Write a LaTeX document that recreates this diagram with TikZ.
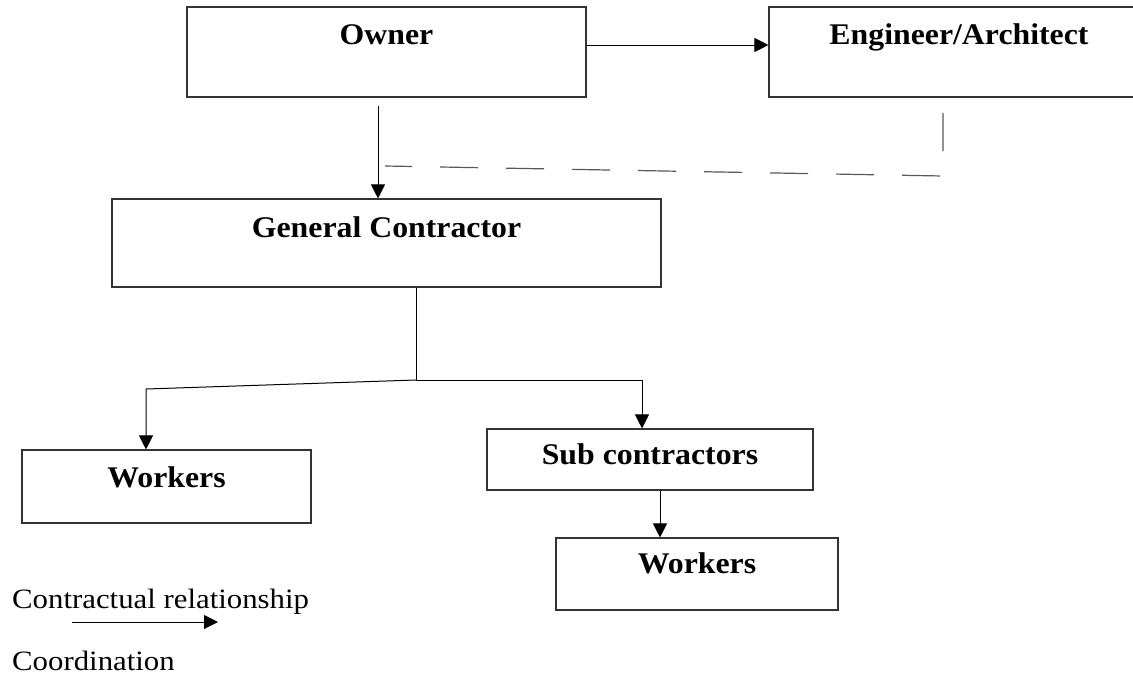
\documentclass[tikz,border=0pt]{standalone}
\usepackage{fontspec}
\setmainfont{Liberation Serif}
\newfontfamily\titlefont{Liberation Serif}[FakeStretch=1.06]
\newfontfamily\legendfont{Liberation Serif}[FakeStretch=1.1]
\usetikzlibrary{arrows.meta}
\begin{document}
\begin{tikzpicture}
            [x=1pt,y=-1pt,
             Box/.style={draw=black!80,line width=1.1pt,inner xsep=0pt,inner ysep=0pt,
               font=\titlefont\bfseries\fontsize{30}{36}\selectfont},
             Contract/.style={line width=1pt,-{Triangle[width=14pt,length=14pt]}},
             Coord/.style={draw=black!65,line width=1.2pt,dash pattern=on 38pt off 28pt},
             Legend/.style={anchor=base west,inner sep=0pt,
               font=\legendfont\fontsize{28}{34}\selectfont}];
            \fill[white] (0,0) rectangle (1133,678);
            \useasboundingbox (0,0) rectangle (1133,678);
            \clip (0,0) rectangle (1133,678);
            % boxes
            \node[Box,minimum width=399pt,text height=37pt,text depth=53pt] (owner) at (386.5,52){Owner};
            \node[Box,minimum width=380pt,text height=37pt,text depth=53pt] (eng) at (959,52){Engineer/Architect};
            \node[Box,minimum width=549pt,text height=38pt,text depth=50pt] (gc) at (386.5,243){General Contractor};
            \node[Box,minimum width=289pt,text height=37pt,text depth=36pt] (wl) at (166.5,486.5){Workers};
            \node[Box,minimum width=326pt,text height=35pt,text depth=26pt] (sub) at (650,459.5){Sub contractors};
            \node[Box,minimum width=282pt,text height=35pt,text depth=37pt] (wr) at (697,574){Workers};
            % contractual links
            \draw[Contract]([yshift=7pt]owner.east) to ([yshift=7pt]eng.west);
            \coordinate (og) at (378,106);
            \draw[Contract](og) to (og |- gc.north);
            \coordinate (split) at (416,380);
            \coordinate (lc) at (146,389);
            \coordinate (rc) at (642,380);
            \draw[line width=1pt](split |- gc.south) to (split);
            \draw[Contract](split) -- (lc) -- (lc |- wl.north);
            \draw[Contract](split) -- (rc) -- (rc |- sub.north);
            \draw[Contract]([xshift=10pt]sub.south) to ([xshift=-37pt]wr.north);
            % coordination
            \coordinate (cA) at (943,113);
            \coordinate (cB) at (943,176);
            \coordinate (cC) at (385,166);
            \draw[Coord](cA) -- (cB) -- (cC);
            % legend
            \node[Legend] (lcon) at (12,608){Contractual relationship};
            \coordinate (la) at (72,622);
            \coordinate (lb) at (218,622);
            \draw[Contract](la) to (lb);
            \node[Legend] (lcoord) at (12,670){Coordination};
        \end{tikzpicture}
\end{document}
